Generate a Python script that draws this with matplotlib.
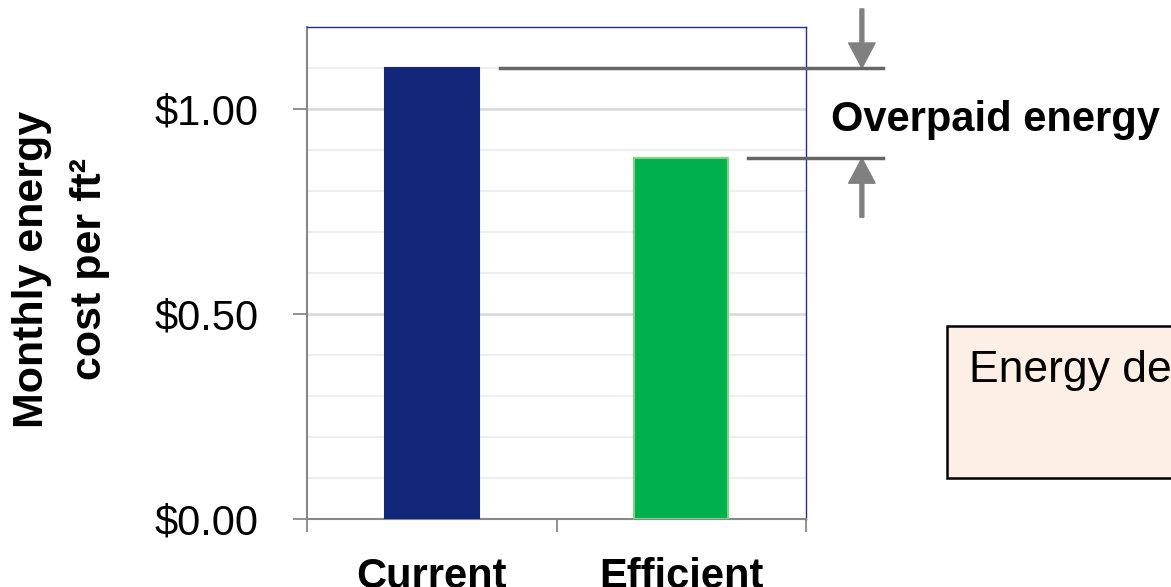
import matplotlib
matplotlib.use("Agg")
import matplotlib.pyplot as plt
import matplotlib.transforms as mtransforms
from matplotlib.patches import Rectangle
from matplotlib.ticker import FuncFormatter, MultipleLocator

plt.rcParams.update({
    "font.family": ["Liberation Sans", "DejaVu Sans"],
    "font.size": 30,
})

categories = ["Current", "Efficient"]
cost = [1.10, 0.88]
bar_colors = ["#12267A", "#00AF4D"]
edge_colors = ["#12267A", "#7DD67D"]
y_ticks = [0.0, 0.5, 1.0]

W, H = 1171, 587
fig = plt.figure(figsize=(W / 100, H / 100), dpi=100)
ax = fig.add_axes([307 / W, 1 - 519 / H, 499 / W, 492 / H])

x = list(range(len(categories)))
ax.bar(x, cost, width=0.375, color=bar_colors, edgecolor=edge_colors, lw=1.5, zorder=3)

ax.set_xlim(-0.5, 1.5)
ax.set_ylim(0, 1.2)

# gridlines: light every 0.1, darker at labelled ticks
ax.yaxis.set_major_locator(plt.FixedLocator(y_ticks))
ax.yaxis.set_minor_locator(MultipleLocator(0.1))
ax.yaxis.set_major_formatter(FuncFormatter(lambda v, _: f"${v:.2f}"))
ax.grid(True, axis="y", which="minor", color="#EEEEEE", lw=1.5, zorder=0)
ax.grid(True, axis="y", which="major", color="#D9D9D9", lw=1.8, zorder=1)
ax.tick_params(axis="y", which="major", length=10, width=1.3, color="#888888", pad=25)
ax.tick_params(axis="y", which="minor", length=0)

# category labels centred, tick marks on category boundaries
ax.set_xticks(x)
ax.set_xticklabels(categories, fontweight="bold")
ax.set_xticks([-0.5, 0.5, 1.5], minor=True)
ax.tick_params(axis="x", which="major", length=0, pad=27)
ax.tick_params(axis="x", which="minor", length=9, width=1.3, color="#888888")

for side in ("left", "bottom"):
    ax.spines[side].set_color("#888888")
    ax.spines[side].set_linewidth(1.5)
for side in ("top", "right"):
    ax.spines[side].set_color("#1F2F8A")
    ax.spines[side].set_linewidth(1.0)

fig.text(32 / W, 1 - 269 / H, "Monthly energy", rotation=90, fontweight="bold",
         fontsize=31, ha="center", va="center")
fig.text(90 / W, 1 - 269 / H, "cost per ft²", rotation=90, fontweight="bold",
         fontsize=31, ha="center", va="center")

# overpaid-energy bracket, x in axes fraction, y in data units
trans = mtransforms.blended_transform_factory(ax.transAxes, ax.transData)
ax.plot([0.387, 1.154], [cost[0], cost[0]], color="#666666", lw=2.5,
        transform=trans, clip_on=False, zorder=4)
ax.plot([0.884, 1.154], [cost[1], cost[1]], color="#666666", lw=2.5,
        transform=trans, clip_on=False, zorder=4)
arrow = dict(color="#808080", width=2.8, headwidth=19, headlength=18, shrink=0)
ax.annotate("", xy=(1.112, cost[0]), xytext=(1.112, 1.244), xycoords=trans,
            textcoords=trans, arrowprops=arrow, annotation_clip=False)
ax.annotate("", xy=(1.112, cost[1]), xytext=(1.112, 0.736), xycoords=trans,
            textcoords=trans, arrowprops=arrow, annotation_clip=False)
ax.text(1.050, 0.946, "Overpaid energy", transform=trans,
        fontweight="bold", ha="left", va="baseline", clip_on=False)

box = Rectangle((947 / W, 1 - 478 / H), 260 / W, 152 / H, transform=fig.transFigure,
                facecolor="#FDEFE6", edgecolor="black", lw=1.8)
fig.add_artist(box)
fig.text(969 / W, 1 - 382 / H, "Energy de", fontsize=32, ha="left", va="baseline")

fig.savefig("out.png", dpi=100)
